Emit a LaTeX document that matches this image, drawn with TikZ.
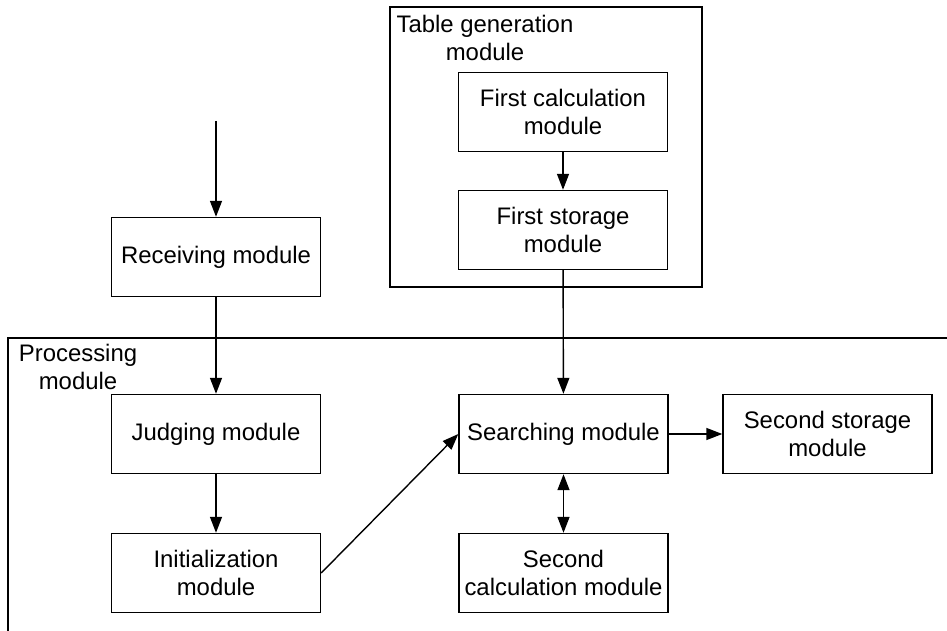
\documentclass[tikz,border=0pt]{standalone}
\usepackage{fontspec}
\setmainfont{Liberation Sans}
\usetikzlibrary{arrows.meta,calc}

\begin{document}
\begin{tikzpicture}[x=1pt,y=-1pt,line width=1.4pt,
    box/.style={draw,rectangle,inner sep=0pt,minimum width=209pt,minimum height=79pt,align=center},
    >={Triangle[length=16pt,width=12pt]},
    font=\fontsize{23.9}{28}\selectfont]
    \useasboundingbox (0,0) rectangle (947,631);

    % table generation part
    \node[draw,rectangle,minimum width=312pt,minimum height=280pt] (tgen) at (546,147) {};
    \node[align=center,inner sep=0pt] (tgentitle) at (485,38) {Table generation\\module};
    \node[box] (fcalc) at (563,112) {First calculation\\module};
    \node[box] (fstore) at ($(fcalc)+(0,118)$) {First storage\\module};

    % processing part
    \coordinate (pr) at (947,338);
    \coordinate (pl) at (8,631);
    \draw (pr) -| (pl);
    \node[align=center,inner sep=0pt] (proctitle) at (78,367) {Processing\\module};

    \coordinate (in) at (216,121);
    \node[box] (recv) at (216,257) {Receiving module};
    \node[box] (judge) at (216,434) {Judging module};
    \node[box] (init) at ($(judge)+(0,139)$) {Initialization\\module};
    \node[box] (search) at (563.5,434) {Searching module};
    \node[box] (sstore) at ($(search)+(264,0)$) {Second storage\\module};
    \node[box] (scalc) at ($(search)+(0,139)$) {Second\\calculation module};

    \draw[->] (in) -- (recv);
    \draw[->] (recv) -- (judge);
    \draw[->] (judge) -- (init);
    \draw[->] (init.east) -- (search.west);
    \draw[->] (fcalc) -- (fstore);
    \draw[->] (fstore) -- (search);
    \draw[->] (search) -- (sstore);
    \draw[<->] (search) -- (scalc);
\end{tikzpicture}
\end{document}
